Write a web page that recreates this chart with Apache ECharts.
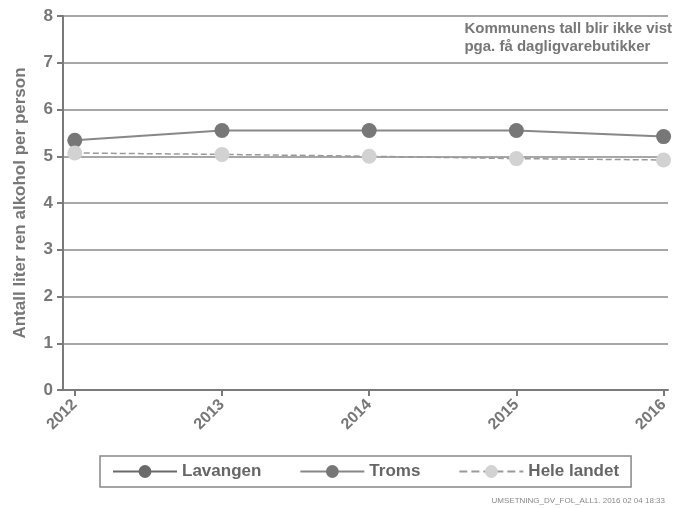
<!DOCTYPE html>
<html><head><meta charset="utf-8">
<script src="https://cdn.jsdelivr.net/npm/echarts@6/dist/echarts.min.js"></script>
<style>html,body{margin:0;padding:0;background:#fff}#c{width:687px;height:508px}</style>
</head><body><div id="c"></div>
<script>
const years = [2012, 2013, 2014, 2015, 2016];
const lavangen = [null, null, null, null, null];
const troms = [5.34, 5.55, 5.55, 5.55, 5.42];
const heleLandet = [5.07, 5.04, 5.0, 4.95, 4.92];
const yTicks = [0, 1, 2, 3, 4, 5, 6, 7, 8];
const note = 'Kommunens tall blir ikke vist\npga. få dagligvarebutikker';
const footer = 'UMSETNING_DV_FOL_ALL1. 2016 02 04 18:33';

const pair = arr => years.map((y, i) => [y, arr[i]]);
const chart = echarts.init(document.getElementById('c'));
const axisCol = '#7a7a7a';
chart.setOption({
  animation: false,
  textStyle: { fontFamily: 'Liberation Sans' },
  grid: { left: 63, right: 19, top: 16, bottom: 118 },
  xAxis: {
    type: 'value', min: 2011.92, max: 2016.03,
    axisLine: { show: true, lineStyle: { color: axisCol, width: 2 } },
    axisTick: { show: true, length: 6, lineStyle: { color: axisCol, width: 2 }, customValues: years },
    axisLabel: { customValues: years, rotate: 45, fontSize: 16, fontWeight: 'bold', color: '#777', margin: 12,
      formatter: v => String(v) },
    splitLine: { show: false }
  },
  yAxis: {
    type: 'value', min: 0, max: 8, interval: 1,
    name: 'Antall liter ren alkohol per person', nameLocation: 'middle', nameGap: 34,
    nameTextStyle: { fontSize: 17, fontWeight: 'bold', color: '#777' },
    axisLine: { show: true, lineStyle: { color: axisCol, width: 2 } },
    axisTick: { show: true, length: 6, lineStyle: { color: axisCol, width: 2 } },
    axisLabel: { fontSize: 17, fontWeight: 'bold', color: '#777', margin: 10 },
    splitLine: { show: true, lineStyle: { color: '#8a8a8a', width: 1.5 } }
  },
  legend: {
    left: 100, top: 456, width: 600,
    data: ['Lavangen', 'Troms', 'Hele landet'],
    borderColor: '#888', borderWidth: 1.5, borderRadius: 0,
    padding: [7, 12, 7, 12], itemGap: 38, itemWidth: 64, itemHeight: 16,
    textStyle: { fontSize: 17, fontWeight: 'bold', color: '#666' }
  },
  graphic: [
    { type: 'text', right: 15, top: 20, style: { text: note, fontSize: 15, fontWeight: 'bold', fill: '#777',
      align: 'right', lineHeight: 18, font: 'bold 15px "Liberation Sans"' } },
    { type: 'text', right: 22, top: 497, style: { text: footer, fontSize: 8, fill: '#888', font: '8px "Liberation Sans"' } }
  ],
  series: [
    { name: 'Lavangen', type: 'line', data: pair(lavangen), symbol: 'circle', symbolSize: 15,
      itemStyle: { color: '#6a6a6a' }, lineStyle: { color: '#6a6a6a', width: 3 } },
    { name: 'Troms', type: 'line', data: pair(troms), symbol: 'circle', symbolSize: 15,
      itemStyle: { color: '#777' }, lineStyle: { color: '#888', width: 2 } },
    { name: 'Hele landet', type: 'line', data: pair(heleLandet), symbol: 'circle', symbolSize: 15,
      itemStyle: { color: '#d2d2d2' }, lineStyle: { color: '#999', width: 1.5, type: 'dashed' } }
  ]
});
</script></body></html>
